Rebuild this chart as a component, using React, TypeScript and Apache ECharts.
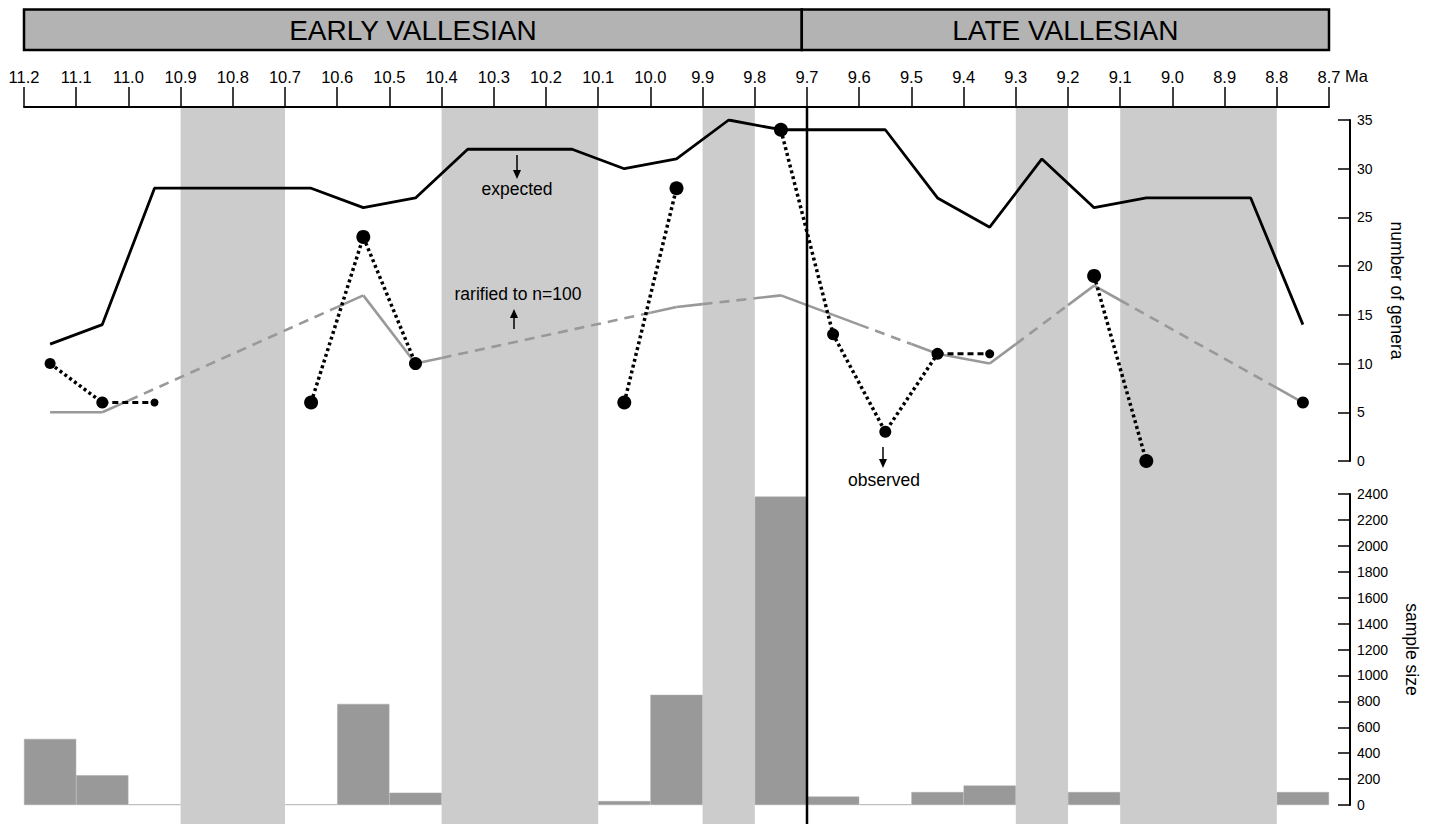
import React, { useEffect, useRef } from 'react';
import * as echarts from 'echarts';

const FONT = '"Liberation Sans", Arial, Helvetica, sans-serif';

// ---- data ----
const binMidAge = [11.15, 11.05, 10.95, 10.85, 10.75, 10.65, 10.55, 10.45, 10.35, 10.25, 10.15, 10.05, 9.95, 9.85, 9.75, 9.65, 9.55, 9.45, 9.35, 9.25, 9.15, 9.05, 8.95, 8.85, 8.75];
const sampleSize = [510, 230, 5, null, null, 5, 780, 95, null, null, null, 30, 850, null, 2380, 65, 5, 100, 150, null, 100, null, null, null, 100];

const expectedAge = [11.15, 11.05, 10.95, 10.65, 10.55, 10.45, 10.35, 10.15, 10.05, 9.95, 9.85, 9.75, 9.55, 9.45, 9.35, 9.25, 9.15, 9.05, 8.85, 8.75];
const expectedGenera = [12, 14, 28, 28, 26, 27, 32, 32, 30, 31, 35, 34, 34, 27, 24, 31, 26, 27, 27, 14];

const rarifiedAge = [11.15, 11.05, 10.55, 10.45, 9.95, 9.75, 9.65, 9.45, 9.35, 9.15, 8.75];
const rarifiedGenera = [5, 5, 17, 10, 15.8, 17, 15, 11, 10, 18, 6];

const observedGenera = [10, 6, null, null, null, 6, 23, 10, null, null, null, 6, 28, null, 34, 13, 3, 11, null, null, 19, 0, null, null, 6];
const tentativeAge = [10.95, 9.35];
const tentativeGenera = [6, 11];

const gapStartAge = [10.9, 10.4, 9.9, 9.3, 9.1];
const gapEndAge = [10.7, 10.1, 9.8, 9.2, 8.8];

const periodNames = ['EARLY VALLESIAN', 'LATE VALLESIAN'];
const periodStartAge = [11.2, 9.71];
const periodEndAge = [9.71, 8.7];
const boundaryAge = [9.7];

// ---- styles ----
const observedDotSize = [11, 12, 0, 0, 0, 14, 14, 13, 0, 0, 0, 14, 14, 0, 14, 12, 12, 12, 0, 0, 14, 14, 0, 0, 12];
const tentativeDotSize = [8, 9];

function buildOption() {
  const series: any[] = [];

  // gap bands
  series.push({
    type: 'custom',
    xAxisIndex: 0,
    yAxisIndex: 0,
    z: 0,
    silent: true,
    data: gapStartAge.map((s, i) => [s, gapEndAge[i]]),
    renderItem: (params: any, api: any) => {
      const p0 = api.coord([api.value(0), 1]);
      const p1 = api.coord([api.value(1), 0]);
      return {
        type: 'rect',
        shape: { x: Math.min(p0[0], p1[0]), y: p0[1], width: Math.abs(p1[0] - p0[0]), height: p1[1] - p0[1] },
        style: { fill: '#cccccc' },
      };
    },
  });

  // stage boundary
  series.push({
    type: 'custom',
    xAxisIndex: 0,
    yAxisIndex: 0,
    z: 6,
    silent: true,
    data: boundaryAge.map((a) => [a, 0]),
    renderItem: (params: any, api: any) => {
      const p0 = api.coord([api.value(0), 1]);
      const p1 = api.coord([api.value(0), 0]);
      return {
        type: 'line',
        shape: { x1: p0[0], y1: p0[1], x2: p1[0], y2: p1[1] },
        style: { stroke: '#000', lineWidth: 2.5 },
      };
    },
  });

  // period header
  series.push({
    type: 'custom',
    xAxisIndex: 3,
    yAxisIndex: 3,
    z: 1,
    silent: true,
    data: periodStartAge.map((s, i) => [s, periodEndAge[i]]),
    renderItem: (params: any, api: any) => {
      const p0 = api.coord([api.value(0), 1]);
      const p1 = api.coord([api.value(1), 0]);
      const x = Math.min(p0[0], p1[0]);
      const w = Math.abs(p1[0] - p0[0]);
      return {
        type: 'group',
        children: [
          {
            type: 'rect',
            shape: { x, y: p0[1], width: w, height: p1[1] - p0[1] },
            style: { fill: '#b3b3b3', stroke: '#000', lineWidth: 2.5 },
          },
          {
            type: 'text',
            style: {
              text: periodNames[params.dataIndex],
              x: x + w / 2,
              y: (p0[1] + p1[1]) / 2 + 1,
              align: 'center',
              verticalAlign: 'middle',
              fontSize: 28,
              fontFamily: FONT,
              fill: '#000',
            },
          },
        ],
      };
    },
  });

  // rarified line (solid in bins with data, dashed across empty bins)
  const rarData = rarifiedAge.map((a, i) => [a, rarifiedGenera[i]]);
  series.push({
    type: 'custom',
    xAxisIndex: 1,
    yAxisIndex: 1,
    z: 2,
    silent: true,
    data: rarData,
    renderItem: (params: any, api: any) => {
      const i = params.dataIndex;
      if (i >= rarData.length - 1) return { type: 'group', children: [] };
      const p0 = api.coord(rarData[i]);
      const p1 = api.coord(rarData[i + 1]);
      const half = Math.abs(api.coord([rarData[i][0] - 0.05, 0])[0] - api.coord([rarData[i][0], 0])[0]);
      const dx = p1[0] - p0[0];
      const dy = p1[1] - p0[1];
      const t = half / Math.abs(dx);
      const solid = { stroke: '#999999', lineWidth: 2.6 };
      const dashed = { stroke: '#999999', lineWidth: 2.6, lineDash: [10, 7] };
      if (t >= 0.499) {
        return { type: 'line', shape: { x1: p0[0], y1: p0[1], x2: p1[0], y2: p1[1] }, style: solid };
      }
      const q0 = [p0[0] + dx * t, p0[1] + dy * t];
      const q1 = [p1[0] - dx * t, p1[1] - dy * t];
      return {
        type: 'group',
        children: [
          { type: 'line', shape: { x1: p0[0], y1: p0[1], x2: q0[0], y2: q0[1] }, style: solid },
          { type: 'line', shape: { x1: q0[0], y1: q0[1], x2: q1[0], y2: q1[1] }, style: dashed },
          { type: 'line', shape: { x1: q1[0], y1: q1[1], x2: p1[0], y2: p1[1] }, style: solid },
        ],
      };
    },
  });

  // expected
  series.push({
    type: 'line',
    xAxisIndex: 1,
    yAxisIndex: 1,
    z: 3,
    silent: true,
    showSymbol: false,
    symbol: 'none',
    data: expectedAge.map((a, i) => [a, expectedGenera[i]]),
    lineStyle: { color: '#000', width: 2.8 },
  });

  // observed: connected runs
  let run: number[][] = [];
  const runs: number[][][] = [];
  observedGenera.forEach((v, i) => {
    if (v === null) {
      if (run.length > 1) runs.push(run);
      run = [];
    } else {
      run.push([binMidAge[i], v]);
    }
  });
  if (run.length > 1) runs.push(run);
  runs.forEach((r) => {
    series.push({
      type: 'line',
      xAxisIndex: 1,
      yAxisIndex: 1,
      z: 4,
      silent: true,
      showSymbol: false,
      symbol: 'none',
      data: r,
      lineStyle: { color: '#000', width: 3.5, type: [3, 3] },
    });
  });

  // tentative links
  tentativeAge.forEach((a, k) => {
    const j = binMidAge.findIndex((m) => Math.abs(m - a) < 1e-6);
    series.push({
      type: 'line',
      xAxisIndex: 1,
      yAxisIndex: 1,
      z: 4,
      silent: true,
      showSymbol: false,
      symbol: 'none',
      data: [
        [binMidAge[j - 1], observedGenera[j - 1]],
        [a, tentativeGenera[k]],
      ],
      lineStyle: { color: '#000', width: 3, type: [6, 4] },
    });
  });

  // observed dots
  const dots: any[] = [];
  observedGenera.forEach((v, i) => {
    if (v !== null) dots.push({ value: [binMidAge[i], v], symbolSize: observedDotSize[i] });
  });
  tentativeAge.forEach((a, k) => dots.push({ value: [a, tentativeGenera[k]], symbolSize: tentativeDotSize[k] }));
  series.push({
    type: 'scatter',
    xAxisIndex: 1,
    yAxisIndex: 1,
    z: 5,
    silent: true,
    symbol: 'circle',
    itemStyle: { color: '#000', opacity: 1 },
    data: dots,
  });

  // sample size bars
  series.push({
    type: 'bar',
    xAxisIndex: 2,
    yAxisIndex: 2,
    z: 2,
    silent: true,
    barCategoryGap: '0%',
    data: sampleSize.map((v) => (v === null ? '-' : v)),
    itemStyle: { color: '#999999', borderColor: '#a8a8a8', borderWidth: 0.5 },
  });

  const hiddenX = (gridIndex: number) => ({
    type: 'value',
    gridIndex,
    min: 8.7,
    max: 11.2,
    inverse: true,
    show: false,
  });

  const rightAxisCommon = {
    type: 'value',
    position: 'right',
    offset: 21,
    axisLine: { show: true, onZero: false, lineStyle: { color: '#000', width: 2 } },
    axisTick: { show: true, inside: true, length: 12, lineStyle: { color: '#000', width: 1.5 } },
    axisLabel: { color: '#000', fontSize: 14, fontFamily: FONT, margin: 7, formatter: (v: number) => String(v) },
    splitLine: { show: false },
    nameLocation: 'middle',
    nameRotate: -90,
    nameTextStyle: { color: '#000', fontSize: 17.5, fontFamily: FONT },
  };

  return {
    animation: false,
    backgroundColor: '#ffffff',
    textStyle: { fontFamily: FONT },
    grid: [
      { left: 24, right: 101, top: 107, bottom: 0 },
      { left: 24, right: 101, top: 120, height: 341 },
      { left: 24, right: 101, top: 494, height: 311 },
      { left: 24, right: 101, top: 9.5, height: 40.5 },
    ],
    xAxis: [
      {
        type: 'value',
        gridIndex: 0,
        position: 'top',
        min: 8.7,
        max: 11.2,
        interval: 0.1,
        inverse: true,
        axisLine: { show: true, onZero: false, lineStyle: { color: '#000', width: 2 } },
        axisTick: { show: true, length: 20, lineStyle: { color: '#000', width: 1.5 } },
        axisLabel: {
          color: '#000',
          fontSize: 16.5,
          fontFamily: FONT,
          margin: 22,
          formatter: (v: number) => v.toFixed(1),
        },
        splitLine: { show: false },
      },
      hiddenX(1),
      {
        type: 'category',
        gridIndex: 2,
        data: binMidAge.map((a) => a.toFixed(2)),
        boundaryGap: true,
        show: false,
      },
      hiddenX(3),
    ],
    yAxis: [
      { type: 'value', gridIndex: 0, min: 0, max: 1, show: false },
      { ...rightAxisCommon, gridIndex: 1, min: 0, max: 35, interval: 5, name: 'number of genera', nameGap: 38 },
      { ...rightAxisCommon, gridIndex: 2, min: 0, max: 2400, interval: 200, name: 'sample size', nameGap: 53 },
      { type: 'value', gridIndex: 3, min: 0, max: 1, show: false },
    ],
    graphic: [
      {
        type: 'text',
        left: 1345,
        top: 67,
        style: { text: 'Ma', fill: '#000', fontSize: 16.5, fontFamily: FONT },
        z: 10,
      },
      // expected annotation
      { type: 'line', shape: { x1: 517, y1: 155, x2: 517, y2: 172 }, style: { stroke: '#000', lineWidth: 1.5 }, z: 10 },
      { type: 'polygon', shape: { points: [[513, 170], [521, 170], [517, 179]] }, style: { fill: '#000' }, z: 10 },
      {
        type: 'text',
        x: 517,
        y: 189,
        style: { text: 'expected', fill: '#000', fontSize: 17.5, fontFamily: FONT, align: 'center', verticalAlign: 'middle', textAlign: 'center', textVerticalAlign: 'middle' },
        z: 10,
      },
      // rarified annotation
      {
        type: 'text',
        x: 518,
        y: 294,
        style: { text: 'rarified to n=100', fill: '#000', fontSize: 17.5, fontFamily: FONT, align: 'center', verticalAlign: 'middle', textAlign: 'center', textVerticalAlign: 'middle' },
        z: 10,
      },
      { type: 'line', shape: { x1: 514, y1: 329, x2: 514, y2: 316 }, style: { stroke: '#000', lineWidth: 1.5 }, z: 10 },
      { type: 'polygon', shape: { points: [[510, 318], [518, 318], [514, 309]] }, style: { fill: '#000' }, z: 10 },
      // observed annotation
      { type: 'line', shape: { x1: 883, y1: 447, x2: 883, y2: 461 }, style: { stroke: '#000', lineWidth: 1.5 }, z: 10 },
      { type: 'polygon', shape: { points: [[879, 459], [887, 459], [883, 468]] }, style: { fill: '#000' }, z: 10 },
      {
        type: 'text',
        x: 884,
        y: 480,
        style: { text: 'observed', fill: '#000', fontSize: 17.5, fontFamily: FONT, align: 'center', verticalAlign: 'middle', textAlign: 'center', textVerticalAlign: 'middle' },
        z: 10,
      },
    ],
    series,
  };
}

export default function App() {
  const ref = useRef<HTMLDivElement>(null);
  useEffect(() => {
    if (!ref.current) return;
    const chart = echarts.init(ref.current, undefined, { renderer: 'svg' });
    chart.setOption(buildOption() as any);
    return () => chart.dispose();
  }, []);
  return (
    <div
      ref={ref}
      style={{ position: 'fixed', left: 0, top: 0, width: 1430, height: 824, background: '#fff' }}
    />
  );
}
